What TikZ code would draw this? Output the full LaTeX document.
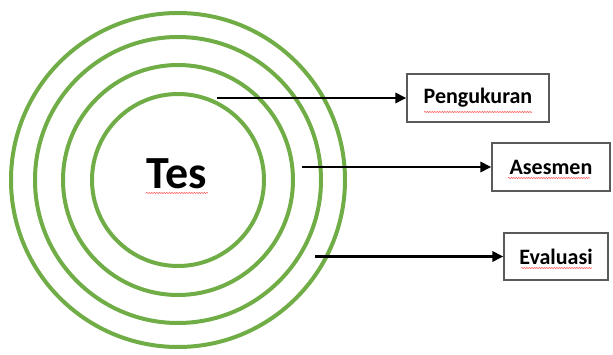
\documentclass[tikz,border=0pt]{standalone}
\usepackage{fontspec}
\setmainfont{Carlito}
\usetikzlibrary{arrows.meta,decorations.pathmorphing}
\definecolor{ringgreen}{RGB}{112,173,71}
\definecolor{boxgray}{RGB}{90,90,90}
\tikzset{
  ring/.style={draw=ringgreen,line width=4pt},
  labelbox/.style={draw=boxgray,line width=1.1pt,fill=white,inner sep=0pt,font=\bfseries\fontsize{22}{26}\selectfont},
  conn/.style={line width=2.6pt,-{Triangle[length=11pt,width=10pt]}},
  squig/.style={draw=red!70,line width=0.5pt,decorate,decoration={snake,amplitude=0.6pt,segment length=2.5pt}}
}
\begin{document}
\begin{tikzpicture}[x=1pt,y=-1pt]
\useasboundingbox (0,0) rectangle (613,355);
\coordinate (c) at (178,180);
\draw[ring] (c) circle[radius=86];
\draw[ring] (c) circle[radius=115];
\draw[ring] (c) circle[radius=143];
\draw[ring] (c) circle[radius=167];
\node[font=\bfseries\fontsize{46}{52}\selectfont] (tes) at (177,174) {Tes};
\node[labelbox,minimum width=142pt,minimum height=48pt] (p) at (478,98) {Pengukuran};
\node[labelbox,minimum width=118pt,minimum height=48pt] (a) at (551,167) {Asesmen};
\node[labelbox,minimum width=104pt,minimum height=47pt] (e) at (556,256.5) {Evaluasi};
\coordinate (s1) at (217,98);
\coordinate (s2) at (302,167);
\coordinate (s3) at (315,256.5);
\draw[conn] (s1) -- (p.west);
\draw[conn] (s2) -- (a.west);
\draw[conn] (s3) -- (e.west);
\coordinate (u1) at (146,193); \coordinate (u2) at (208,193);
\draw[squig] (u1) -- (u2);
\coordinate (u3) at (424,112); \coordinate (u4) at (532,112);
\draw[squig] (u3) -- (u4);
\coordinate (u5) at (508,178); \coordinate (u6) at (590,178);
\draw[squig] (u5) -- (u6);
\coordinate (u7) at (521,268); \coordinate (u8) at (592,268);
\draw[squig] (u7) -- (u8);
\end{tikzpicture}
\end{document}
